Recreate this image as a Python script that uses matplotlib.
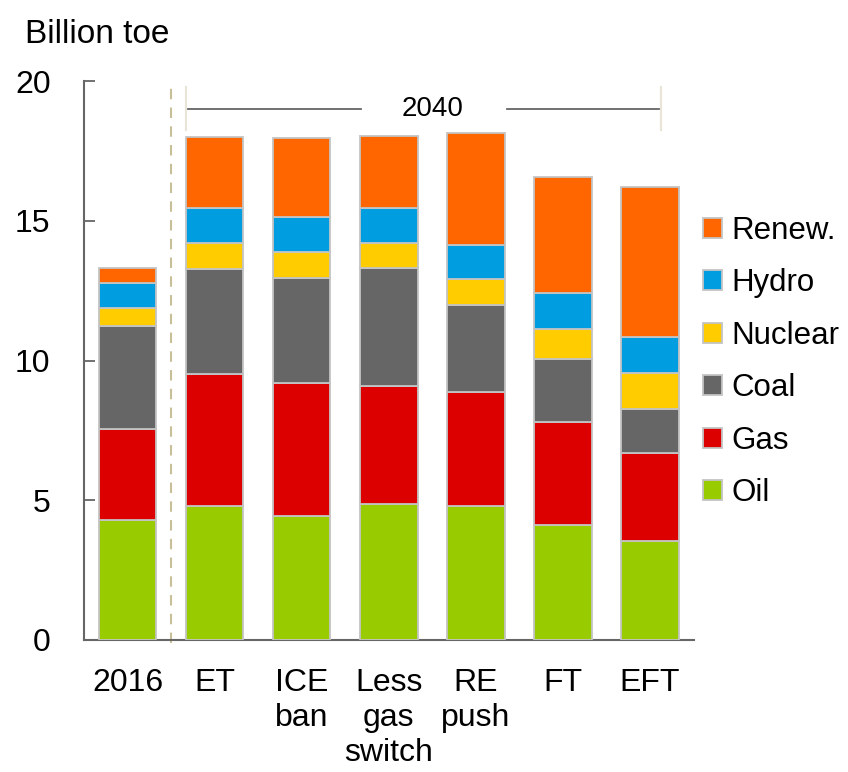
import numpy as np
import matplotlib.pyplot as plt
from matplotlib.patches import Patch

plt.rcParams['font.family'] = ['Liberation Sans', 'DejaVu Sans']

# Primary energy demand by fuel, billion toe
scenarios = ['2016', 'ET', 'ICE\nban', 'Less\ngas\nswitch', 'RE\npush', 'FT', 'EFT']
fuels = ['Oil', 'Gas', 'Coal', 'Nuclear', 'Hydro', 'Renew.']
oil = [4.30, 4.80, 4.45, 4.85, 4.78, 4.11, 3.54]
gas = [3.25, 4.72, 4.73, 4.23, 4.08, 3.69, 3.15]
coal = [3.70, 3.77, 3.79, 4.22, 3.12, 2.24, 1.59]
nuclear = [0.62, 0.91, 0.91, 0.91, 0.93, 1.10, 1.27]
hydro = [0.90, 1.25, 1.24, 1.25, 1.24, 1.28, 1.29]
renew = [0.53, 2.54, 2.86, 2.58, 3.98, 4.16, 5.38]
colors = ['#99cc00', '#dd0000', '#666666', '#ffcc00', '#009ee0', '#ff6600']

series = [oil, gas, coal, nuclear, hydro, renew]

fig = plt.figure(figsize=(8.48, 7.72), dpi=100)
ax = fig.add_axes([0.099, 0.171, 0.719, 0.724])

x = np.arange(len(scenarios))
bottom = np.zeros(len(scenarios))
for vals, col, name in zip(series, colors, fuels):
    ax.bar(x, vals, width=0.66, bottom=bottom, color=col, edgecolor='#c4c4c4',
           linewidth=1.3, label=name, zorder=3)
    bottom += np.array(vals)

ax.set_xlim(-0.5, 6.5)
ax.set_ylim(0, 20)
ax.set_yticks([0, 5, 10, 15, 20])
ax.set_xticks(x)
ax.set_xticklabels(scenarios, fontsize=23, va='top', linespacing=1.22)
ax.tick_params(axis='y', direction='in', length=8, width=1.3, color='#666666',
               labelsize=23, pad=24)
ax.tick_params(axis='x', length=0, pad=20)
for side in ['top', 'right']:
    ax.spines[side].set_visible(False)
for side in ['left', 'bottom']:
    ax.spines[side].set_color('#666666')
    ax.spines[side].set_linewidth(1.5)

# separator between history and scenarios
ax.plot([0.5, 0.5], [-0.1, 20], ls=(0, (5, 4)), color='#c8bf99', lw=1.5,
        clip_on=False, zorder=2)

# 2040 bracket
ax.plot([0.67, 0.67], [18.25, 19.8], color='#e8e4d6', lw=1.5, clip_on=False)
ax.plot([6.12, 6.12], [18.25, 19.8], color='#e8e4d6', lw=1.5, clip_on=False)
ax.plot([0.69, 2.68], [19.0, 19.0], color='#666666', lw=1.3, clip_on=False)
ax.plot([4.36, 6.1], [19.0, 19.0], color='#666666', lw=1.3, clip_on=False)
ax.text(3.5, 19.0, '2040', fontsize=20, ha='center', va='center')

fig.text(0.03, 0.975, 'Billion toe', fontsize=24, ha='left', va='top')

handles = [Patch(facecolor=c, edgecolor='#c4c4c4', linewidth=1.3, label=f)
           for c, f in zip(colors, fuels)][::-1]
fig.legend(handles=handles, loc='center left', bbox_to_anchor=(703 / 848, 0.531),
           bbox_transform=fig.transFigure, frameon=False, fontsize=22.5,
           handlelength=0.6, handleheight=0.6, handletextpad=0.3,
           labelspacing=0.72, borderpad=0, borderaxespad=0)

fig.savefig('out.png', dpi=100)
